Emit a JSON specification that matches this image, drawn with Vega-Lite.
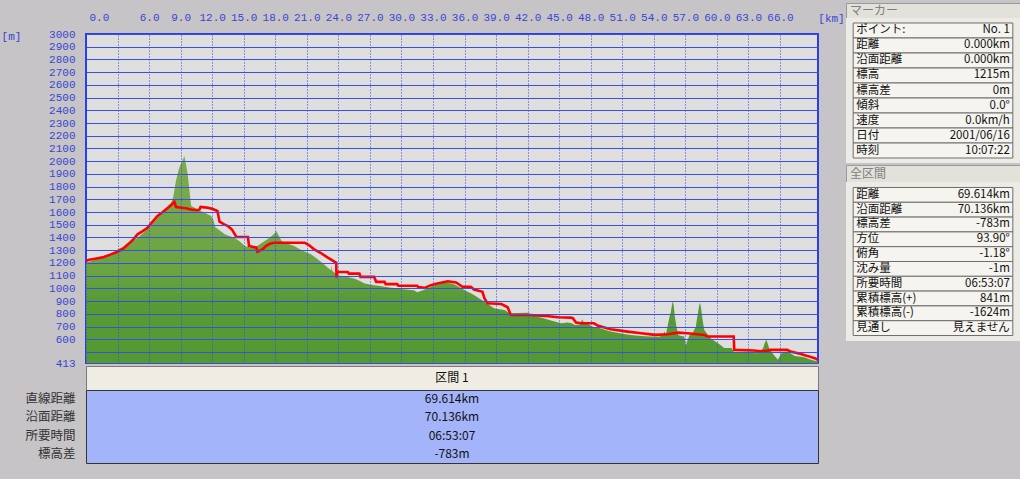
{
  "$schema": "https://vega.github.io/schema/vega-lite/v6.json",
  "background": "#c6c4c6",
  "padding": {"left": 0, "top": 2, "right": 1, "bottom": 17},
  "config": {"view": {"stroke": null}, "font": "Noto Sans CJK JP"},
  "datasets": {
    "terrain": [
      {"km": 0.0, "elev": 1200}, {"km": 0.5, "elev": 1215}, {"km": 1.0, "elev": 1230}, {"km": 1.5, "elev": 1240},
      {"km": 2.0, "elev": 1255}, {"km": 2.5, "elev": 1275}, {"km": 3.0, "elev": 1305}, {"km": 3.5, "elev": 1325},
      {"km": 4.0, "elev": 1350}, {"km": 4.5, "elev": 1375}, {"km": 4.9, "elev": 1398}, {"km": 5.5, "elev": 1440},
      {"km": 6.0, "elev": 1477}, {"km": 6.5, "elev": 1525}, {"km": 7.1, "elev": 1582}, {"km": 7.6, "elev": 1630},
      {"km": 8.1, "elev": 1673}, {"km": 8.3, "elev": 1720}, {"km": 8.55, "elev": 1844}, {"km": 8.8, "elev": 1930},
      {"km": 9.0, "elev": 1975}, {"km": 9.2, "elev": 2010}, {"km": 9.35, "elev": 2041}, {"km": 9.5, "elev": 1980},
      {"km": 9.67, "elev": 1897}, {"km": 9.85, "elev": 1760}, {"km": 10.0, "elev": 1650}, {"km": 10.5, "elev": 1625},
      {"km": 10.9, "elev": 1608}, {"km": 11.4, "elev": 1590}, {"km": 11.9, "elev": 1569}, {"km": 12.1, "elev": 1540},
      {"km": 12.3, "elev": 1480}, {"km": 12.8, "elev": 1450}, {"km": 13.2, "elev": 1425}, {"km": 13.7, "elev": 1410},
      {"km": 14.1, "elev": 1398}, {"km": 14.6, "elev": 1370}, {"km": 15.1, "elev": 1333}, {"km": 15.6, "elev": 1322},
      {"km": 16.0, "elev": 1320}, {"km": 16.5, "elev": 1345}, {"km": 17.0, "elev": 1372}, {"km": 17.5, "elev": 1400},
      {"km": 17.9, "elev": 1430}, {"km": 18.1, "elev": 1450}, {"km": 18.3, "elev": 1420}, {"km": 18.6, "elev": 1372},
      {"km": 19.2, "elev": 1350}, {"km": 19.8, "elev": 1333}, {"km": 20.5, "elev": 1300}, {"km": 21.4, "elev": 1268},
      {"km": 22.0, "elev": 1230}, {"km": 22.5, "elev": 1200}, {"km": 23.0, "elev": 1162}, {"km": 23.3, "elev": 1142},
      {"km": 23.35, "elev": 1180}, {"km": 23.4, "elev": 1140}, {"km": 23.9, "elev": 1103}, {"km": 24.4, "elev": 1095},
      {"km": 24.9, "elev": 1090}, {"km": 25.5, "elev": 1077}, {"km": 26.0, "elev": 1060}, {"km": 26.5, "elev": 1038},
      {"km": 27.0, "elev": 1030}, {"km": 27.4, "elev": 1025}, {"km": 28.0, "elev": 1018}, {"km": 28.4, "elev": 1012},
      {"km": 29.0, "elev": 1005}, {"km": 29.6, "elev": 999}, {"km": 30.4, "elev": 990}, {"km": 31.2, "elev": 986},
      {"km": 31.5, "elev": 970}, {"km": 31.9, "elev": 981}, {"km": 32.4, "elev": 995}, {"km": 32.8, "elev": 1012},
      {"km": 33.4, "elev": 1030}, {"km": 34.0, "elev": 1045}, {"km": 34.1, "elev": 1060}, {"km": 34.3, "elev": 1048},
      {"km": 35.0, "elev": 1033}, {"km": 35.5, "elev": 1010}, {"km": 36.0, "elev": 986}, {"km": 36.5, "elev": 965},
      {"km": 36.9, "elev": 947}, {"km": 37.4, "elev": 920}, {"km": 37.9, "elev": 895}, {"km": 38.4, "elev": 868},
      {"km": 38.8, "elev": 843}, {"km": 39.3, "elev": 835}, {"km": 39.8, "elev": 830}, {"km": 40.1, "elev": 815},
      {"km": 40.4, "elev": 804}, {"km": 41.2, "elev": 806}, {"km": 42.0, "elev": 809}, {"km": 42.5, "elev": 790},
      {"km": 42.9, "elev": 778}, {"km": 43.5, "elev": 765}, {"km": 44.3, "elev": 745}, {"km": 45.2, "elev": 726},
      {"km": 45.8, "elev": 731}, {"km": 46.2, "elev": 725}, {"km": 46.5, "elev": 712}, {"km": 47.0, "elev": 715},
      {"km": 47.2, "elev": 757}, {"km": 47.4, "elev": 720}, {"km": 47.6, "elev": 725}, {"km": 48.3, "elev": 694},
      {"km": 48.9, "elev": 686}, {"km": 49.4, "elev": 672}, {"km": 49.9, "elev": 660}, {"km": 50.4, "elev": 652},
      {"km": 50.8, "elev": 647}, {"km": 51.3, "elev": 640}, {"km": 51.8, "elev": 634}, {"km": 52.3, "elev": 630},
      {"km": 52.8, "elev": 626}, {"km": 53.2, "elev": 624}, {"km": 53.7, "elev": 621}, {"km": 54.2, "elev": 620},
      {"km": 54.6, "elev": 621}, {"km": 54.9, "elev": 640}, {"km": 55.0, "elev": 660}, {"km": 55.15, "elev": 640},
      {"km": 55.3, "elev": 699}, {"km": 55.5, "elev": 780}, {"km": 55.6, "elev": 804}, {"km": 55.75, "elev": 880},
      {"km": 55.8, "elev": 903}, {"km": 55.9, "elev": 860}, {"km": 56.0, "elev": 778}, {"km": 56.15, "elev": 700},
      {"km": 56.3, "elev": 634}, {"km": 56.6, "elev": 625}, {"km": 56.9, "elev": 621}, {"km": 57.05, "elev": 548},
      {"km": 57.15, "elev": 580}, {"km": 57.4, "elev": 634}, {"km": 57.7, "elev": 650}, {"km": 58.0, "elev": 699},
      {"km": 58.1, "elev": 760}, {"km": 58.2, "elev": 804}, {"km": 58.3, "elev": 860}, {"km": 58.4, "elev": 888},
      {"km": 58.5, "elev": 840}, {"km": 58.6, "elev": 778}, {"km": 58.7, "elev": 720}, {"km": 58.8, "elev": 673},
      {"km": 59.1, "elev": 640}, {"km": 59.4, "elev": 608}, {"km": 59.7, "elev": 590}, {"km": 60.1, "elev": 569},
      {"km": 60.4, "elev": 550}, {"km": 60.7, "elev": 530}, {"km": 61.1, "elev": 530}, {"km": 61.4, "elev": 530},
      {"km": 61.6, "elev": 500}, {"km": 61.7, "elev": 495}, {"km": 62.3, "elev": 495}, {"km": 63.0, "elev": 495},
      {"km": 63.5, "elev": 492}, {"km": 63.9, "elev": 490}, {"km": 64.2, "elev": 505}, {"km": 64.4, "elev": 530},
      {"km": 64.55, "elev": 570}, {"km": 64.7, "elev": 595}, {"km": 64.85, "elev": 560}, {"km": 65.0, "elev": 522},
      {"km": 65.2, "elev": 500}, {"km": 65.5, "elev": 469}, {"km": 65.8, "elev": 438}, {"km": 66.1, "elev": 485},
      {"km": 66.4, "elev": 500}, {"km": 66.7, "elev": 503}, {"km": 67.0, "elev": 490}, {"km": 67.4, "elev": 469},
      {"km": 67.8, "elev": 465}, {"km": 68.3, "elev": 459}, {"km": 68.8, "elev": 443}, {"km": 69.3, "elev": 430},
      {"km": 69.614, "elev": 425}
    ],
    "track": [
      {"km": 0.0, "elev": 1215}, {"km": 0.3, "elev": 1225}, {"km": 1.0, "elev": 1235}, {"km": 1.7, "elev": 1246},
      {"km": 2.3, "elev": 1265}, {"km": 3.0, "elev": 1288}, {"km": 3.5, "elev": 1310}, {"km": 4.0, "elev": 1346},
      {"km": 4.5, "elev": 1385}, {"km": 4.9, "elev": 1425}, {"km": 5.4, "elev": 1450}, {"km": 5.85, "elev": 1477},
      {"km": 6.3, "elev": 1520}, {"km": 6.8, "elev": 1569}, {"km": 7.3, "elev": 1600}, {"km": 7.8, "elev": 1634},
      {"km": 8.1, "elev": 1655}, {"km": 8.4, "elev": 1681}, {"km": 8.56, "elev": 1640}, {"km": 9.5, "elev": 1630},
      {"km": 10.0, "elev": 1620}, {"km": 10.6, "elev": 1614}, {"km": 10.8, "elev": 1620}, {"km": 10.9, "elev": 1640},
      {"km": 11.5, "elev": 1635}, {"km": 12.0, "elev": 1625}, {"km": 12.5, "elev": 1608}, {"km": 12.7, "elev": 1524},
      {"km": 13.1, "elev": 1505}, {"km": 13.5, "elev": 1490}, {"km": 13.9, "elev": 1460}, {"km": 14.3, "elev": 1404},
      {"km": 15.4, "elev": 1404}, {"km": 15.5, "elev": 1333}, {"km": 16.2, "elev": 1320}, {"km": 16.3, "elev": 1288},
      {"km": 16.8, "elev": 1307}, {"km": 17.1, "elev": 1333}, {"km": 17.5, "elev": 1350}, {"km": 17.9, "elev": 1359},
      {"km": 20.8, "elev": 1359}, {"km": 21.2, "elev": 1340}, {"km": 21.7, "elev": 1307}, {"km": 22.3, "elev": 1280},
      {"km": 23.0, "elev": 1241}, {"km": 23.8, "elev": 1201}, {"km": 23.82, "elev": 1084}, {"km": 23.9, "elev": 1129},
      {"km": 24.9, "elev": 1129}, {"km": 25.0, "elev": 1116}, {"km": 26.0, "elev": 1116}, {"km": 26.1, "elev": 1090},
      {"km": 27.4, "elev": 1090}, {"km": 27.6, "elev": 1051}, {"km": 28.4, "elev": 1051}, {"km": 28.5, "elev": 1033},
      {"km": 29.6, "elev": 1033}, {"km": 29.7, "elev": 1020}, {"km": 31.5, "elev": 1020}, {"km": 31.6, "elev": 1010},
      {"km": 32.2, "elev": 1004}, {"km": 32.8, "elev": 1025}, {"km": 33.4, "elev": 1038}, {"km": 34.4, "elev": 1056},
      {"km": 35.2, "elev": 1046}, {"km": 35.8, "elev": 1012}, {"km": 36.6, "elev": 1012}, {"km": 36.9, "elev": 991},
      {"km": 37.7, "elev": 973}, {"km": 37.9, "elev": 921}, {"km": 38.2, "elev": 882}, {"km": 39.5, "elev": 877},
      {"km": 40.1, "elev": 851}, {"km": 40.4, "elev": 791}, {"km": 42.3, "elev": 791}, {"km": 44.0, "elev": 780},
      {"km": 44.9, "elev": 773}, {"km": 46.1, "elev": 770}, {"km": 46.3, "elev": 765}, {"km": 46.6, "elev": 731},
      {"km": 47.1, "elev": 725}, {"km": 48.3, "elev": 725}, {"km": 48.7, "elev": 705}, {"km": 49.9, "elev": 678},
      {"km": 51.5, "elev": 660}, {"km": 52.8, "elev": 647}, {"km": 54.1, "elev": 634}, {"km": 55.3, "elev": 639},
      {"km": 56.3, "elev": 652}, {"km": 57.2, "elev": 647}, {"km": 58.8, "elev": 634}, {"km": 59.1, "elev": 621},
      {"km": 61.6, "elev": 621}, {"km": 61.65, "elev": 516}, {"km": 63.5, "elev": 511}, {"km": 64.2, "elev": 506},
      {"km": 64.6, "elev": 506}, {"km": 65.1, "elev": 516}, {"km": 66.7, "elev": 516}, {"km": 67.0, "elev": 503},
      {"km": 67.9, "elev": 485}, {"km": 68.6, "elev": 469}, {"km": 69.3, "elev": 451}, {"km": 69.614, "elev": 438}
    ],
    "section": [
      {"k": "直線距離", "v": "69.614km"},
      {"k": "沿面距離", "v": "70.136km"},
      {"k": "所要時間", "v": "06:53:07"},
      {"k": "標高差", "v": "-783m"}
    ],
    "marker": [
      {"k": "ポイント:", "v": "No. 1"},
      {"k": "距離", "v": "0.000km"},
      {"k": "沿面距離", "v": "0.000km"},
      {"k": "標高", "v": "1215m"},
      {"k": "標高差", "v": "0m"},
      {"k": "傾斜", "v": "0.0°"},
      {"k": "速度", "v": "0.0km/h"},
      {"k": "日付", "v": "2001/06/16"},
      {"k": "時刻", "v": "10:07:22"}
    ],
    "total": [
      {"k": "距離", "v": "69.614km"},
      {"k": "沿面距離", "v": "70.136km"},
      {"k": "標高差", "v": "-783m"},
      {"k": "方位", "v": "93.90°"},
      {"k": "俯角", "v": "-1.18°"},
      {"k": "沈み量", "v": "-1m"},
      {"k": "所要時間", "v": "06:53:07"},
      {"k": "累積標高(+)", "v": "841m"},
      {"k": "累積標高(-)", "v": "-1624m"},
      {"k": "見通し", "v": "見えません"}
    ]
  },
  "spacing": -2,
  "hconcat": [
    {
      "bounds": "flush",
      "spacing": 0,
      "vconcat": [
        {
          "width": 732, "height": 31,
          "view": {"fill": "#c6c4c6"},
          "data": {"values": [{}]},
          "mark": {"type": "text", "text": " "},
          "encoding": {}
        },
        {
          "width": 732, "height": 329,
          "view": {"fill": "#dedede", "stroke": "#2a3ee6", "strokeWidth": 2},
          "layer": [
            {
              "data": {"name": "terrain"},
              "mark": {
                "type": "area", "clip": true,
                "color": {"gradient": "linear", "x1": 0, "y1": 0, "x2": 0, "y2": 1,
                  "stops": [{"offset": 0, "color": "#7eab50"}, {"offset": 0.45, "color": "#6aa342"}, {"offset": 0.55, "color": "#589b36"}, {"offset": 1, "color": "#4f982f"}]}
              },
              "encoding": {
                "x": {
                  "field": "km", "type": "quantitative",
                  "scale": {"domain": [0, 69.614], "nice": false, "zero": false},
                  "axis": {
                    "orient": "top",
                    "values": [0, 3, 6, 9, 12, 15, 18, 21, 24, 27, 30, 33, 36, 39, 42, 45, 48, 51, 54, 57, 60, 63, 66],
                    "tickCount": 40,
                    "labelExpr": "datum.value == 3 ? '' : format(datum.value, '.1f')",
                    "ticks": false, "domain": false,
                    "grid": true, "gridColor": "#2f45e6", "gridDash": [1, 2], "gridWidth": 1,
                    "labelPadding": 12, "labelFlush": true, "labelFlushOffset": -3, "labelOverlap": false,
                    "labelFont": "Liberation Mono", "labelFontSize": 11, "labelColor": "#3646d4",
                    "title": "[km]", "titleX": 745, "titleY": -16, "titleAlign": "center", "titleBaseline": "middle",
                    "titleFont": "Liberation Mono", "titleFontSize": 11, "titleFontWeight": "normal", "titleColor": "#3646d4",
                    "zindex": 1
                  }
                },
                "y": {
                  "field": "elev", "type": "quantitative",
                  "scale": {"domain": [413, 3000], "nice": false, "zero": false},
                  "axis": {
                    "values": [413, 500, 600, 700, 800, 900, 1000, 1100, 1200, 1300, 1400, 1500, 1600, 1700, 1800, 1900, 2000, 2100, 2200, 2300, 2400, 2500, 2600, 2700, 2800, 2900, 3000],
                    "tickCount": 40,
                    "labelExpr": "datum.value == 500 ? '' : format(datum.value, 'd')",
                    "ticks": false, "domain": false,
                    "grid": true, "gridColor": "#3a4fe0", "gridWidth": 1,
                    "labelPadding": 11, "labelOverlap": false,
                    "labelFont": "Liberation Mono", "labelFontSize": 11, "labelColor": "#3646d4",
                    "title": "[m]", "titleAngle": 0, "titleX": -75, "titleY": 2, "titleAlign": "center", "titleBaseline": "middle",
                    "titleFont": "Liberation Mono", "titleFontSize": 11, "titleFontWeight": "normal", "titleColor": "#3646d4",
                    "zindex": 1
                  }
                }
              }
            },
            {
              "data": {"name": "track"},
              "mark": {"type": "line", "color": "#ff0000", "strokeWidth": 2.6, "clip": true},
              "encoding": {
                "x": {"field": "km", "type": "quantitative"},
                "y": {"field": "elev", "type": "quantitative"}
              }
            }
          ]
        },
        {
          "width": 732, "height": 3,
          "data": {"values": [{}]},
          "mark": {"type": "text", "text": " "},
          "encoding": {}
        },
        {
          "width": 732, "height": 24,
          "view": {"fill": "#efede3", "stroke": "#7a7a7a", "strokeWidth": 1},
          "data": {"values": [{"t": "区間 1"}]},
          "mark": {"type": "text", "fontSize": 12, "color": "#111111", "baseline": "middle", "font": "Noto Sans CJK JP"},
          "encoding": {"text": {"field": "t"}}
        },
        {
          "width": 732, "height": 73,
          "view": {"fill": "#a3b4fa", "stroke": "#333333", "strokeWidth": 1},
          "data": {"name": "section"},
          "mark": {"type": "text", "fontSize": 12, "color": "#111111", "baseline": "middle", "font": "Noto Sans CJK JP"},
          "encoding": {
            "y": {
              "field": "k", "type": "nominal", "sort": null,
              "scale": {"type": "band", "paddingInner": 0, "paddingOuter": 0},
              "axis": {"orient": "left", "title": null, "ticks": false, "domain": false, "labelPadding": 11,
                "labelFont": "Noto Sans CJK JP", "labelFontSize": 12.5, "labelColor": "#333333"}
            },
            "text": {"field": "v"}
          }
        }
      ]
    },
    {
      "bounds": "flush",
      "spacing": 0,
      "vconcat": [
        {
          "width": 174, "height": 15,
          "view": {"fill": "#e2e1da", "stroke": "#9a9a9a", "strokeWidth": 1},
          "data": {"values": [{"t": "マーカー"}]},
          "mark": {"type": "text", "align": "left", "dx": 4, "fontSize": 12, "color": "#808080", "baseline": "middle", "font": "Noto Sans CJK JP"},
          "encoding": {
            "x": {"datum": 0, "type": "quantitative", "scale": {"domain": [0, 1]}, "axis": null},
            "text": {"field": "t"}
          }
        },
        {
          "width": 174, "height": 145,
          "view": {"fill": "#ecebe5"},
          "data": {"name": "marker"},
          "encoding": {
            "y": {"field": "k", "type": "nominal", "sort": null, "scale": {"type": "band", "paddingInner": 0, "paddingOuter": 0.333}, "axis": null}
          },
          "layer": [
            {
              "mark": {"type": "rect", "fill": "#f5f4ef", "stroke": "#6e6e6e", "strokeWidth": 1},
              "encoding": {
                "x": {"datum": 0, "type": "quantitative", "scale": {"domain": [-0.045, 1.045], "nice": false, "zero": false}, "axis": null},
                "x2": {"datum": 1}
              }
            },
            {
              "mark": {"type": "text", "align": "left", "dx": 3, "fontSize": 11.5, "color": "#111111", "baseline": "middle", "font": "Noto Sans CJK JP"},
              "encoding": {"x": {"datum": 0, "type": "quantitative"}, "text": {"field": "k"}}
            },
            {
              "mark": {"type": "text", "align": "right", "dx": -3, "fontSize": 11.5, "color": "#111111", "baseline": "middle", "font": "Noto Sans CJK JP"},
              "encoding": {"x": {"datum": 1, "type": "quantitative"}, "text": {"field": "v"}}
            }
          ]
        },
        {
          "width": 174, "height": 2,
          "data": {"values": [{}]},
          "mark": {"type": "text", "text": " "},
          "encoding": {}
        },
        {
          "width": 174, "height": 17,
          "view": {"fill": "#e2e1da", "stroke": "#9a9a9a", "strokeWidth": 1},
          "data": {"values": [{"t": "全区間"}]},
          "mark": {"type": "text", "align": "left", "dx": 4, "fontSize": 12, "color": "#808080", "baseline": "middle", "font": "Noto Sans CJK JP"},
          "encoding": {
            "x": {"datum": 0, "type": "quantitative", "scale": {"domain": [0, 1]}, "axis": null},
            "text": {"field": "t"}
          }
        },
        {
          "width": 174, "height": 159,
          "view": {"fill": "#ecebe5"},
          "data": {"name": "total"},
          "encoding": {
            "y": {"field": "k", "type": "nominal", "sort": null, "scale": {"type": "band", "paddingInner": 0, "paddingOuter": 0.37}, "axis": null}
          },
          "layer": [
            {
              "mark": {"type": "rect", "fill": "#f5f4ef", "stroke": "#6e6e6e", "strokeWidth": 1},
              "encoding": {
                "x": {"datum": 0, "type": "quantitative", "scale": {"domain": [-0.045, 1.045], "nice": false, "zero": false}, "axis": null},
                "x2": {"datum": 1}
              }
            },
            {
              "mark": {"type": "text", "align": "left", "dx": 3, "fontSize": 11.5, "color": "#111111", "baseline": "middle", "font": "Noto Sans CJK JP"},
              "encoding": {"x": {"datum": 0, "type": "quantitative"}, "text": {"field": "k"}}
            },
            {
              "mark": {"type": "text", "align": "right", "dx": -3, "fontSize": 11.5, "color": "#111111", "baseline": "middle", "font": "Noto Sans CJK JP"},
              "encoding": {"x": {"datum": 1, "type": "quantitative"}, "text": {"field": "v"}}
            }
          ]
        }
      ]
    }
  ]
}
